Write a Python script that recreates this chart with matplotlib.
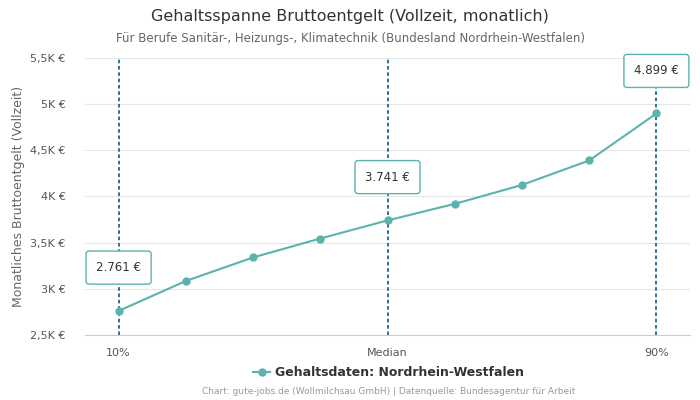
import matplotlib.pyplot as plt
from matplotlib.ticker import FuncFormatter

# Perzentile 10..90
percentiles = [10, 20, 30, 40, 50, 60, 70, 80, 90]
salaries = [2761, 3085, 3340, 3545, 3741, 3920, 4125, 4390, 4899]
tick_labels = {0: '10%', 4: 'Median', 8: '90%'}
marked = [0, 4, 8]
label_y = [3230, 4210, 5360]

LINE = '#5bb3ae'
VLINE = '#1f6690'

fig = plt.figure(figsize=(7, 4), dpi=100)
ax = fig.add_axes([85 / 700, 65 / 400, 605 / 700, 277 / 400])
x = list(range(len(percentiles)))

ax.plot(x, salaries, color=LINE, lw=1.5, marker='o', ms=5, zorder=3,
        label='Gehaltsdaten: Nordrhein-Westfalen')
for i, ly in zip(marked, label_y):
    ax.axvline(i, color=VLINE, ls=(0, (2, 1.5)), lw=1.3, zorder=2)
    ax.text(i, ly, '{:,} €'.format(salaries[i]).replace(',', '.'),
            ha='center', va='center', fontsize=8.5, color='#333333', zorder=4,
            bbox=dict(boxstyle='round,pad=0.85,rounding_size=0.25',
                      fc='white', ec=LINE, lw=1))

ax.set_xlim(-0.5, 8.5)
ax.set_ylim(2500, 5500)
ax.set_yticks(range(2500, 5501, 500))
ax.yaxis.set_major_formatter(FuncFormatter(
    lambda v, p: ('{:g}'.format(v / 1000)).replace('.', ',') + 'K €'))
ax.set_xticks(list(tick_labels.keys()))
ax.set_xticklabels(list(tick_labels.values()))
ax.tick_params(length=0, labelsize=8, colors='#555555')
ax.tick_params(axis='y', pad=14)
ax.tick_params(axis='x', pad=9)
ax.grid(axis='y', color='#e6e6e6', lw=0.8)
ax.set_axisbelow(True)
for s in ['top', 'right', 'left']:
    ax.spines[s].set_visible(False)
ax.spines['bottom'].set_color('#cccccc')
ax.set_ylabel('Monatliches Bruttoentgelt (Vollzeit)', fontsize=9, color='#666666')

fig.text(0.5, 0.958, 'Gehaltsspanne Bruttoentgelt (Vollzeit, monatlich)',
         ha='center', va='center', fontsize=11.5, color='#333333')
fig.text(0.5, 0.903, 'Für Berufe Sanitär-, Heizungs-, Klimatechnik (Bundesland Nordrhein-Westfalen)',
         ha='center', va='center', fontsize=8.5, color='#666666')
fig.legend(loc='center', bbox_to_anchor=(0.555, 0.068), frameon=False,
           prop={'weight': 'bold', 'size': 9}, labelcolor='#333333',
           handlelength=1.3, handletextpad=0.4)
fig.text(0.555, 0.02, 'Chart: gute-jobs.de (Wollmilchsau GmbH) | Datenquelle: Bundesagentur für Arbeit',
         ha='center', va='center', fontsize=6.5, color='#999999')

fig.savefig('out.png')
